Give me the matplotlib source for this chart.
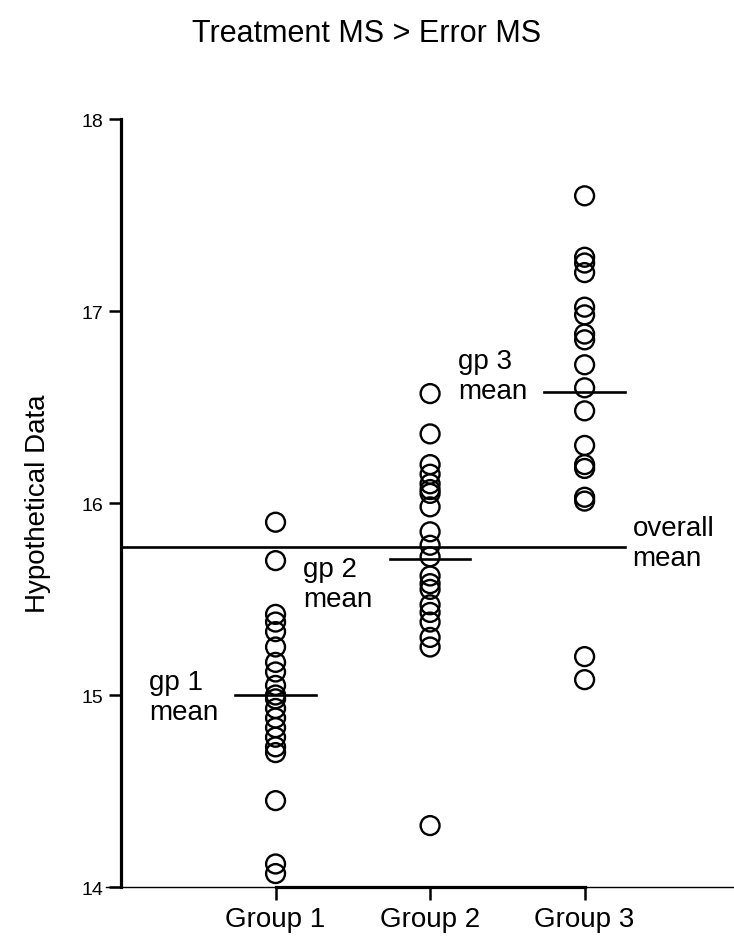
import numpy as np
import matplotlib
matplotlib.use("Agg")
import matplotlib.pyplot as plt
from matplotlib.lines import Line2D

plt.rcParams['font.family'] = ['Liberation Sans', 'DejaVu Sans']

# data
groups = ["Group 1", "Group 2", "Group 3"]
group1 = [15.90, 15.70, 15.42, 15.38, 15.33, 15.25, 15.17, 15.12, 15.05, 15.00,
          14.98, 14.93, 14.88, 14.83, 14.78, 14.73, 14.70, 14.45, 14.12, 14.07]
group2 = [16.57, 16.36, 16.20, 16.15, 16.10, 16.07, 16.05, 15.98, 15.85, 15.78,
          15.72, 15.62, 15.58, 15.55, 15.47, 15.43, 15.38, 15.30, 15.25, 14.32]
group3 = [17.60, 17.28, 17.25, 17.20, 17.02, 16.98, 16.88, 16.85, 16.72, 16.60,
          16.48, 16.30, 16.20, 16.18, 16.03, 16.01, 15.20, 15.08]
group_means = [15.00, 15.71, 16.58]
overall_mean = 15.77
mean_labels = ["gp 1\nmean", "gp 2\nmean", "gp 3\nmean"]
label_y = [14.99, 15.58, 16.66]     # where the "gp n mean" texts sit
yticks = [14, 15, 16, 17, 18]

fig = plt.figure(figsize=(7.34, 9.45), dpi=100)
ax = fig.add_axes([0.1649, 0.0603, 0.80, 0.8127])

for i, vals in enumerate([group1, group2, group3]):
    x = i + 1
    ax.scatter([x] * len(vals), vals, s=185, facecolors='none',
               edgecolors='black', linewidths=1.7, zorder=3, clip_on=False)
    # group mean line
    ax.plot([x - 0.26, x + 0.26], [group_means[i]] * 2, color='black', lw=1.9)
    ax.text(x - 0.82, label_y[i], mean_labels[i], fontsize=20,
            va='center', ha='left', linespacing=1.2)

# overall mean
ax.plot([0, 3.26], [overall_mean] * 2, color='black', lw=1.9)
ax.text(3.31, overall_mean + 0.02, "overall\nmean", fontsize=20, va='center',
        ha='left', linespacing=1.2)

ax.set_xlim(0, 3.8)
ax.set_ylim(14, 18)
ax.set_yticks(yticks)
ax.set_xticks([1, 2, 3])
ax.set_xticklabels(groups, fontsize=20)
ax.tick_params(axis='y', labelsize=14, length=9, width=1.8, pad=4)
ax.tick_params(axis='x', length=9, width=1.8, pad=5)

for s in ['top', 'right']:
    ax.spines[s].set_visible(False)
ax.spines['left'].set_linewidth(2.3)
ax.spines['bottom'].set_linewidth(2.3)
ax.spines['bottom'].set_bounds(1, 3)

# thin baseline across the figure
fig.add_artist(Line2D([0.145, 1.0], [0.0603, 0.0603], color='black', lw=1.0,
                      transform=fig.transFigure))

ax.set_ylabel("Hypothetical Data", fontsize=20, labelpad=22)
fig.text(0.5, 0.964, "Treatment MS > Error MS", fontsize=22, ha='center', va='center')

fig.savefig("out.png", dpi=100)
